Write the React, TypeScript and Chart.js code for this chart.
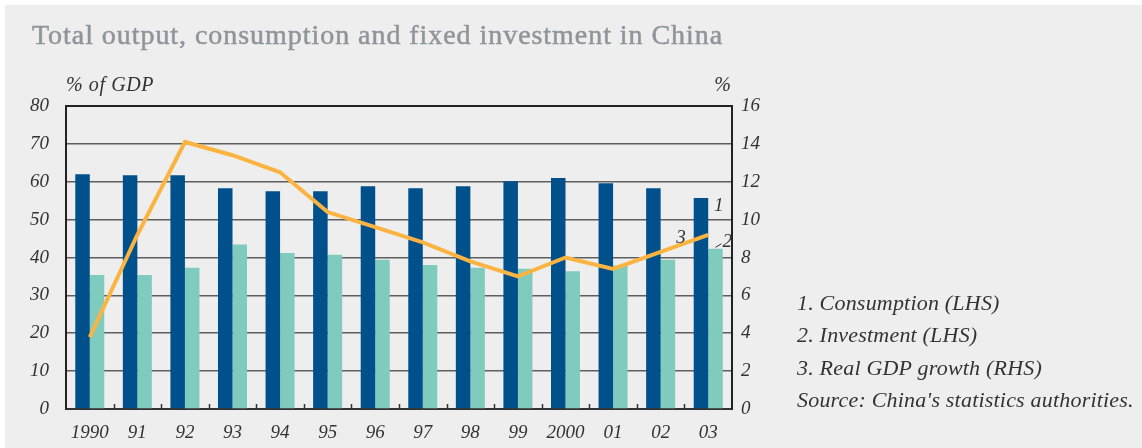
import React, { useEffect, useRef } from "react";
import { Chart, registerables } from "chart.js";

Chart.register(...registerables);

const categories = ["1990", "91", "92", "93", "94", "95", "96", "97", "98", "99", "2000", "01", "02", "03"];
const consumption = [62.0, 61.7, 61.7, 58.3, 57.5, 57.5, 58.8, 58.3, 58.8, 60.1, 61.0, 59.6, 58.3, 55.7];
const investment = [35.4, 35.4, 37.3, 43.4, 41.2, 40.7, 39.4, 38.0, 37.3, 37.0, 36.4, 37.9, 39.4, 42.3];
const gdpGrowth = [3.8, 9.2, 14.1, 13.4, 12.5, 10.4, 9.6, 8.8, 7.8, 7.0, 8.0, 7.4, 8.3, 9.2];
const leftTicks = [0, 10, 20, 30, 40, 50, 60, 70, 80];
const rightTicks = [0, 2, 4, 6, 8, 10, 12, 14, 16];
const notes = [
  "1. Consumption (LHS)",
  "2. Investment (LHS)",
  "3. Real GDP growth (RHS)",
  "Source: China's statistics authorities.",
];

const SERIF = "'Liberation Serif', 'Times New Roman', serif";
const tickFont = { family: SERIF, size: 19, style: "italic" as const };

const overlayPlugin = {
  id: "overlay",
  afterDatasetsDraw(chart: any) {
    const { ctx, chartArea } = chart;
    const xs = chart.scales.x;
    ctx.save();
    // top border
    ctx.strokeStyle = "#222";
    ctx.lineWidth = 2;
    ctx.beginPath();
    ctx.moveTo(chartArea.left - 1, chartArea.top);
    ctx.lineTo(chartArea.right + 1, chartArea.top);
    ctx.stroke();
    // small tick marks between categories on the bottom axis
    ctx.strokeStyle = "#333";
    ctx.lineWidth = 1.5;
    for (let i = 1; i < categories.length; i++) {
      const x = Math.round((xs.getPixelForTick(i - 1) + xs.getPixelForTick(i)) / 2) + 0.5;
      ctx.beginPath();
      ctx.moveTo(x, chartArea.bottom);
      ctx.lineTo(x, chartArea.bottom - 5);
      ctx.stroke();
    }
    // series labels 1, 2, 3 near the last category
    const n = categories.length - 1;
    const c = chart.getDatasetMeta(0).data[n];
    const inv = chart.getDatasetMeta(1).data[n];
    const g = chart.getDatasetMeta(2).data[n];
    ctx.fillStyle = "#333";
    ctx.font = `italic 19px ${SERIF}`;
    ctx.textAlign = "left";
    ctx.textBaseline = "alphabetic";
    ctx.fillText("1", c.x + 13, c.y + 13);
    ctx.fillText("3", g.x - 32, g.y + 8);
    ctx.fillText("2", inv.x + 7, inv.y - 2);
    ctx.strokeStyle = "#333";
    ctx.lineWidth = 1;
    ctx.beginPath();
    ctx.moveTo(inv.x, inv.y - 1.5);
    ctx.lineTo(inv.x + 6, inv.y - 5);
    ctx.stroke();
    ctx.restore();
  },
};

export default function App() {
  const ref = useRef<HTMLCanvasElement | null>(null);

  useEffect(() => {
    if (!ref.current) return;
    const chart = new Chart(ref.current, {
      type: "bar",
      data: {
        labels: categories,
        datasets: [
          {
            type: "bar",
            label: "Consumption (LHS)",
            data: consumption,
            backgroundColor: "#00508c",
            yAxisID: "y",
            categoryPercentage: 0.61,
            barPercentage: 1.0,
            order: 2,
          },
          {
            type: "bar",
            label: "Investment (LHS)",
            data: investment,
            backgroundColor: "#7fcbbd",
            yAxisID: "y",
            categoryPercentage: 0.61,
            barPercentage: 1.0,
            order: 2,
          },
          {
            type: "line",
            label: "Real GDP growth (RHS)",
            data: gdpGrowth,
            borderColor: "#fbb441",
            borderWidth: 4,
            pointRadius: 0,
            tension: 0,
            yAxisID: "y1",
            order: 0,
            borderJoinStyle: "miter",
          } as any,
        ],
      },
      options: {
        responsive: false,
        animation: false,
        maintainAspectRatio: false,
        layout: { padding: { top: 106, left: 0, right: 350, bottom: 0 } },
        plugins: { legend: { display: false }, tooltip: { enabled: false }, title: { display: false } },
        scales: {
          x: {
            grid: { display: false },
            border: { display: true, color: "#333", width: 2 },
            ticks: { font: tickFont, color: "#333", padding: 5, maxRotation: 0, autoSkip: false },
            afterFit(scale: any) {
              scale.height = 39;
            },
          },
          y: {
            position: "left",
            min: 0,
            max: 80,
            afterBuildTicks(scale: any) {
              scale.ticks = leftTicks.map((v) => ({ value: v }));
            },
            grid: { color: "#5e5e5e", lineWidth: 1.6, drawTicks: false },
            border: { display: true, color: "#222", width: 2 },
            ticks: { font: tickFont, color: "#333", padding: 17 },
            afterFit(scale: any) {
              scale.width = 66;
            },
          },
          y1: {
            position: "right",
            min: 0,
            max: 16,
            afterBuildTicks(scale: any) {
              scale.ticks = rightTicks.map((v) => ({ value: v }));
            },
            grid: { drawOnChartArea: false, drawTicks: false },
            border: { display: true, color: "#222", width: 2 },
            ticks: { font: tickFont, color: "#333", padding: 9 },
            afterFit(scale: any) {
              scale.width = 60;
            },
          },
        },
      },
      plugins: [overlayPlugin],
    } as any);
    return () => chart.destroy();
  }, []);

  const textBase: React.CSSProperties = {
    position: "absolute",
    fontFamily: SERIF,
    lineHeight: 1,
    whiteSpace: "nowrap",
    margin: 0,
  };

  return (
    <div style={{ position: "fixed", left: 0, top: 0, width: 1142, height: 448, background: "#ffffff", overflow: "hidden" }}>
      <div style={{ position: "absolute", left: 5, top: 5, right: 0, bottom: 0, background: "#eeeeee" }} />
      <canvas ref={ref} width={1142} height={448} style={{ position: "absolute", left: 0, top: 0, width: 1142, height: 448 }} />
      <div
        style={{
          ...textBase,
          left: 32,
          top: 21,
          fontSize: 28,
          letterSpacing: 0.95,
          color: "#8f959b",
          WebkitTextStroke: "0.5px #8f959b",
        }}
      >
        Total output, consumption and fixed investment in China
      </div>
      <div style={{ ...textBase, left: 66, top: 74, fontSize: 20, letterSpacing: 0.6, fontStyle: "italic", color: "#333" }}>% of GDP</div>
      <div style={{ ...textBase, right: 1142 - 731, top: 74, fontSize: 20, fontStyle: "italic", color: "#333", textAlign: "right" }}>%</div>
      {notes.map((t, i) => (
        <div
          key={i}
          style={{ ...textBase, left: 797, top: 292 + i * 32.3, fontSize: 22, letterSpacing: 0.2, fontStyle: "italic", color: "#333" }}
        >
          {t}
        </div>
      ))}
    </div>
  );
}
